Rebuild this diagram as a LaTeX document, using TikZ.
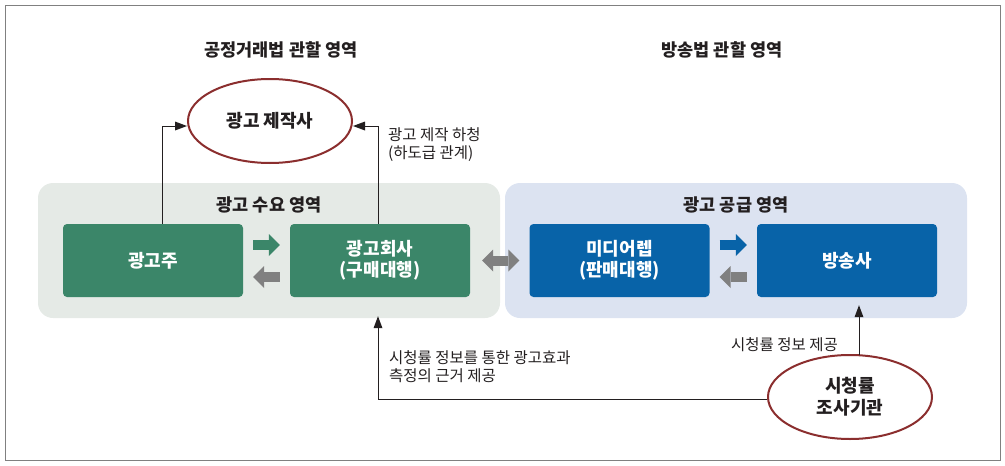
\documentclass[tikz,border=0pt]{standalone}
\usepackage{fontspec}
\setmainfont{Noto Sans CJK KR}
\usetikzlibrary{shapes.geometric,arrows.meta}
\definecolor{boxgreen}{HTML}{3B8669}
\definecolor{boxblue}{HTML}{0863A8}
\definecolor{areagreen}{HTML}{E5EAE6}
\definecolor{areablue}{HTML}{DCE3F1}
\definecolor{arrgray}{HTML}{808080}
\definecolor{ovalred}{HTML}{8B2E2E}
\definecolor{ink}{HTML}{231F20}
\begin{document}
\begin{tikzpicture}[x = 1pt, y = -1pt,
	title/.style = {text = ink, font = \bfseries\fontsize{17.5}{20}\selectfont},
	lbl/.style = {text = ink, align = left, inner sep = 0pt, font = \fontsize{15.5}{18}\selectfont},
	box/.style = {rounded corners = 4pt, minimum width = 180pt, minimum height = 73pt, text = white, align = center, font = \bfseries\fontsize{18}{21}\selectfont},
	oval/.style = {ellipse, draw = ovalred, line width = 2pt, fill = white, minimum width = 164pt, minimum height = 84pt, inner sep = 0pt, align = center, text = ink, font = \bfseries\fontsize{18}{22}\selectfont},
	fat/.style = {line width = 10pt, -{Triangle[length = 11pt, width = 22pt, line width = 0pt]}, shorten <= 10pt, shorten >= 10pt},
	thin/.style = {ink, line width = 0.8pt, -{Triangle[length = 12pt, width = 9pt, line width = 0pt]}}]
	\useasboundingbox (0,0) rectangle (1005,466);
	\draw [arrgray, line width = 1pt] (5,5) rectangle (1000,460);
	\fill [areagreen, rounded corners = 15pt] (38,183) rectangle (500,318);
	\fill [areablue, rounded corners = 15pt] (505,183) rectangle (967,318);
	\node [title] (ftc) at (281,50) {공정거래법 관할 영역};
	\node [title] (bcl) at (722,50) {방송법 관할 영역};
	\node [title] (demand) at (269,205) {광고 수요 영역};
	\node [title] (supply) at (736,205) {광고 공급 영역};
	\node [box, fill = boxgreen] (adv) at (153,260.5) {광고주};
	\node [box, fill = boxgreen] (agency) at (380,260.5) {광고회사\\(구매대행)};
	\node [box, fill = boxblue] (rep) at (619.5,260.5) {미디어렙\\(판매대행)};
	\node [box, fill = boxblue] (bcast) at (847,260.5) {방송사};
	\node [oval] (maker) at (270,121) {광고 제작사};
	\node [oval] (rating) at (850,397) {시청률\\조사기관};
	\draw [fat, boxgreen] ([yshift = 15.5pt]adv.east) -- ([yshift = 15.5pt]agency.west);
	\draw [fat, arrgray] ([yshift = -16.5pt]agency.west) -- ([yshift = -16.5pt]adv.east);
	\draw [fat, boxblue] ([yshift = 15.5pt]rep.east) -- ([yshift = 15.5pt]bcast.west);
	\draw [fat, arrgray] ([yshift = -16.5pt]bcast.west) -- ([yshift = -16.5pt]rep.east);
	\draw [fat, arrgray, {Triangle[length = 11pt, width = 22pt, line width = 0pt]}-{Triangle[length = 11pt, width = 22pt, line width = 0pt]}, shorten <= 12pt] (agency.east) -- (rep.west);
	\draw [thin] ([xshift = 9pt]adv.north) |- ([yshift = -5pt]maker.west);
	\draw [thin] ([xshift = -2pt]agency.north) |- ([yshift = -5pt]maker.east);
	\draw [thin] ([yshift = -2pt]rating.west) -| ([xshift = -2pt, yshift = -19pt]agency.south);
	\draw [thin] ([xshift = 9pt, yshift = -1pt]rating.north) -- ([xshift = 12pt, yshift = -8pt]bcast.south);
	\node [lbl, anchor = west] (subl) at (388,145) {광고 제작 하청\\(하도급 관계)};
	\node [lbl, anchor = west] (effl) at (389,367) {시청률 정보를 통한 광고효과\\측정의 근거 제공};
	\node [lbl, anchor = east] (infl) at (838,345) {시청률 정보 제공};
\end{tikzpicture}
\end{document}
